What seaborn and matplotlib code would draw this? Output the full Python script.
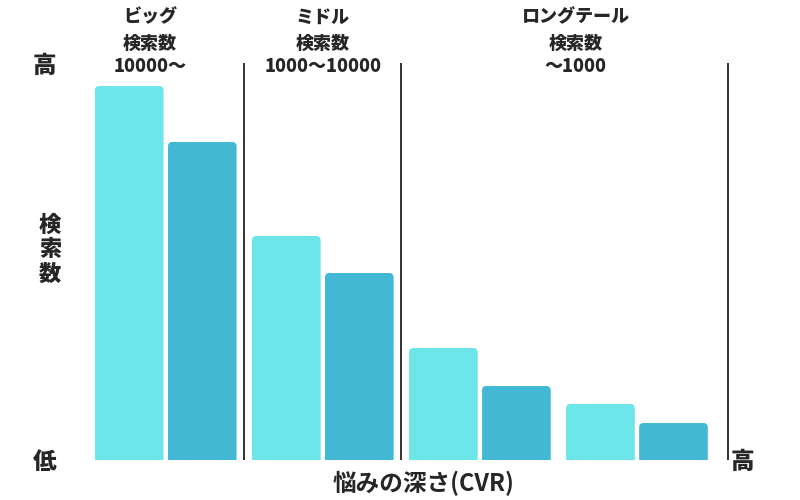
import pandas as pd
import numpy as np
import matplotlib
matplotlib.use("Agg")
import matplotlib.pyplot as plt
from matplotlib.patches import FancyBboxPatch
import seaborn as sns

# data (bar heights, arbitrary units)
groups = ["G1", "G2", "G3", "G4"]
light_values = [374, 224, 112, 56]
dark_values = [318, 187, 74, 37]
section_names = ["ビッグ", "ミドル", "ロングテール"]
section_ranges = ["10000〜", "1000〜10000", "〜1000"]

df = pd.DataFrame({
    "group": groups * 2,
    "kind": ["light"] * 4 + ["dark"] * 4,
    "value": light_values + dark_values,
})

sns.set_theme(style="white")
plt.rcParams['font.family'] = ['Noto Sans CJK JP', 'DejaVu Sans']

fig = plt.figure(figsize=(8, 5), dpi=100)
ax = fig.add_axes([0.109, 0.08, 0.805, 0.80])

sns.barplot(data=df, x="group", y="value", hue="kind",
            palette={"light": "#6CE6E8", "dark": "#42B8D4"},
            width=0.93, gap=0.06, saturation=1, legend=False, ax=ax)

ax.set_xlim(-0.5, 3.6)
ax.set_ylim(0, 400)

# swap plain bars for ones with slightly rounded tops
for p in list(ax.patches):
    x, y = p.get_x(), p.get_y()
    w, h = p.get_width(), p.get_height()
    rb = FancyBboxPatch((x, y - 20), w, h + 20,
                        boxstyle="round,pad=0,rounding_size=0.028",
                        mutation_aspect=157, facecolor=p.get_facecolor(),
                        edgecolor="none")
    p.remove()
    ax.add_patch(rb)

for s in ax.spines.values():
    s.set_visible(False)
ax.set_xticks([])
ax.set_yticks([])
ax.set_xlabel("")
ax.set_ylabel("")

# section dividers
for xd in [0.497, 1.497, 3.58]:
    ax.vlines(xd, 0, 397, color="#222222", linewidth=1.3)

# section titles, one line at a time
for xt, name, rng in zip([-0.10, 1.0, 2.61], section_names, section_ranges):
    ax.text(xt, 443, name, ha="center", va="center", fontsize=13,
            fontweight="heavy", clip_on=False)
    ax.text(xt, 417, "検索数", ha="center", va="center", fontsize=13,
            fontweight="heavy", clip_on=False)
    ax.text(xt, 393, rng, ha="center", va="center", fontsize=13,
            fontweight="heavy", clip_on=False)

# axis words
fig.text(44 / 800, 1 - 66 / 500, "高", ha="center", va="center", fontsize=17, fontweight="heavy")
fig.text(50 / 800, 1 - 250 / 500, "検\n索\n数", ha="center", va="center", fontsize=16,
         fontweight="heavy", linespacing=1.1)
fig.text(45 / 800, 1 - 462 / 500, "低", ha="center", va="center", fontsize=17, fontweight="heavy")
fig.text(742 / 800, 1 - 462 / 500, "高", ha="center", va="center", fontsize=17, fontweight="heavy")
fig.text(424 / 800, 1 - 483 / 500, "悩みの深さ(CVR)", ha="center", va="center", fontsize=17,
         fontweight="bold")

fig.savefig("out.png", dpi=100)
